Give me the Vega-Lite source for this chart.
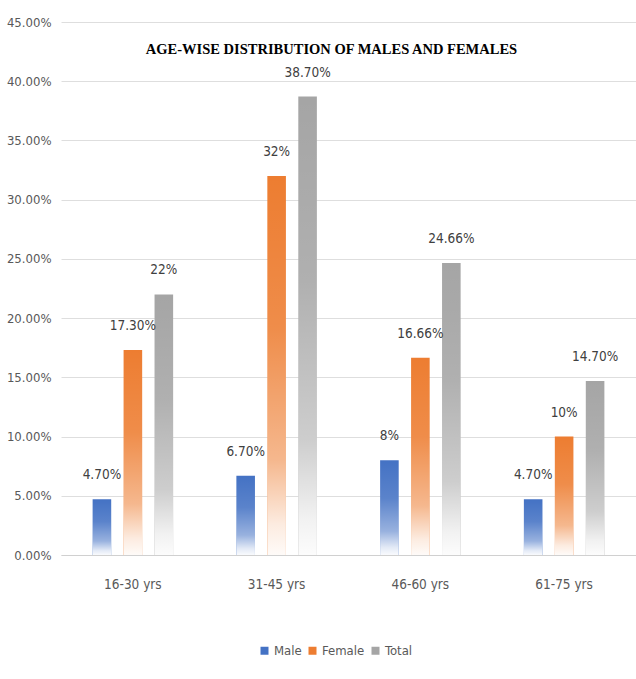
{
  "$schema": "https://vega.github.io/schema/vega-lite/v6.json",
  "width": 575,
  "height": 533,
  "autosize": {"type": "none"},
  "padding": {"left": 61, "top": 22, "right": 0, "bottom": 124},
  "background": "white",
  "title": {
    "text": "AGE-WISE DISTRIBUTION OF MALES AND FEMALES",
    "font": "Liberation Serif",
    "fontSize": 14.5,
    "fontWeight": "bold",
    "color": "#000000",
    "anchor": "middle",
    "frame": "group",
    "dx": -17,
    "offset": -41
  },
  "data": {
    "values": [
      {"age": "16-30 yrs", "series": "Male", "value": 0.047, "label": "4.70%"},
      {"age": "16-30 yrs", "series": "Female", "value": 0.173, "label": "17.30%"},
      {"age": "16-30 yrs", "series": "Total", "value": 0.22, "label": "22%"},
      {"age": "31-45 yrs", "series": "Male", "value": 0.067, "label": "6.70%"},
      {"age": "31-45 yrs", "series": "Female", "value": 0.32, "label": "32%"},
      {"age": "31-45 yrs", "series": "Total", "value": 0.387, "label": "38.70%"},
      {"age": "46-60 yrs", "series": "Male", "value": 0.08, "label": "8%"},
      {"age": "46-60 yrs", "series": "Female", "value": 0.1666, "label": "16.66%"},
      {"age": "46-60 yrs", "series": "Total", "value": 0.2466, "label": "24.66%"},
      {"age": "61-75 yrs", "series": "Male", "value": 0.047, "label": "4.70%"},
      {"age": "61-75 yrs", "series": "Female", "value": 0.1, "label": "10%"},
      {"age": "61-75 yrs", "series": "Total", "value": 0.147, "label": "14.70%"}
    ]
  },
  "encoding": {
    "x": {
      "field": "age",
      "type": "nominal",
      "sort": null,
      "scale": {"paddingInner": 0.44, "paddingOuter": 0.22},
      "axis": {
        "title": null,
        "labelAngle": 0,
        "ticks": false,
        "domain": true,
        "domainColor": "#d0d0d0",
        "labelPadding": 22,
        "labelFont": "DejaVu Sans Condensed, sans-serif",
        "labelFontSize": 13.5,
        "labelColor": "#595959"
      }
    },
    "xOffset": {
      "field": "series",
      "type": "nominal",
      "sort": ["Male", "Female", "Total"],
      "scale": {"paddingInner": 0.4, "paddingOuter": 0}
    },
    "y": {
      "field": "value",
      "type": "quantitative",
      "scale": {"domain": [0, 0.45], "nice": false},
      "axis": {
        "title": null,
        "format": ".2%",
        "values": [0, 0.05, 0.1, 0.15, 0.2, 0.25, 0.3, 0.35, 0.4, 0.45],
        "ticks": false,
        "domain": false,
        "grid": true,
        "gridColor": "#dedede",
        "gridWidth": 1,
        "labelPadding": 10,
        "labelFont": "DejaVu Sans Condensed, sans-serif",
        "labelFontSize": 13,
        "labelColor": "#595959"
      }
    }
  },
  "layer": [
    {
      "mark": {"type": "bar"},
      "encoding": {
        "color": {
          "field": "series",
          "type": "nominal",
          "sort": ["Male", "Female", "Total"],
          "scale": {"domain": ["Male", "Female", "Total"], "range": ["#4472C4", "#ED7D31", "#A5A5A5"]},
          "legend": {
            "title": null,
            "orient": "none",
            "direction": "horizontal",
            "legendX": 197,
            "legendY": 622,
            "symbolType": "square",
            "symbolSize": 64,
            "symbolStrokeWidth": 0,
            "labelFont": "DejaVu Sans Condensed, sans-serif",
            "labelFontSize": 13,
            "labelColor": "#595959",
            "columnPadding": 4,
            "labelOffset": 3
          }
        }
      }
    },
    {
      "mark": {
        "type": "bar",
        "fill": {
          "gradient": "linear",
          "x1": 0, "y1": 0, "x2": 0, "y2": 1,
          "stops": [
            {"offset": 0, "color": "rgba(255,255,255,0)"},
            {"offset": 0.4, "color": "rgba(255,255,255,0.12)"},
            {"offset": 0.75, "color": "rgba(255,255,255,0.45)"},
            {"offset": 0.92, "color": "rgba(255,255,255,0.85)"},
            {"offset": 1, "color": "rgba(255,255,255,0.97)"}
          ]
        }
      },
      "encoding": {}
    },
    {
      "mark": {
        "type": "text",
        "baseline": "bottom",
        "dy": -17,
        "font": "DejaVu Sans Condensed, sans-serif",
        "fontSize": 13.5,
        "color": "#404040"
      },
      "encoding": {
        "text": {"field": "label", "type": "nominal"}
      }
    }
  ],
  "config": {
    "view": {"stroke": null}
  }
}
